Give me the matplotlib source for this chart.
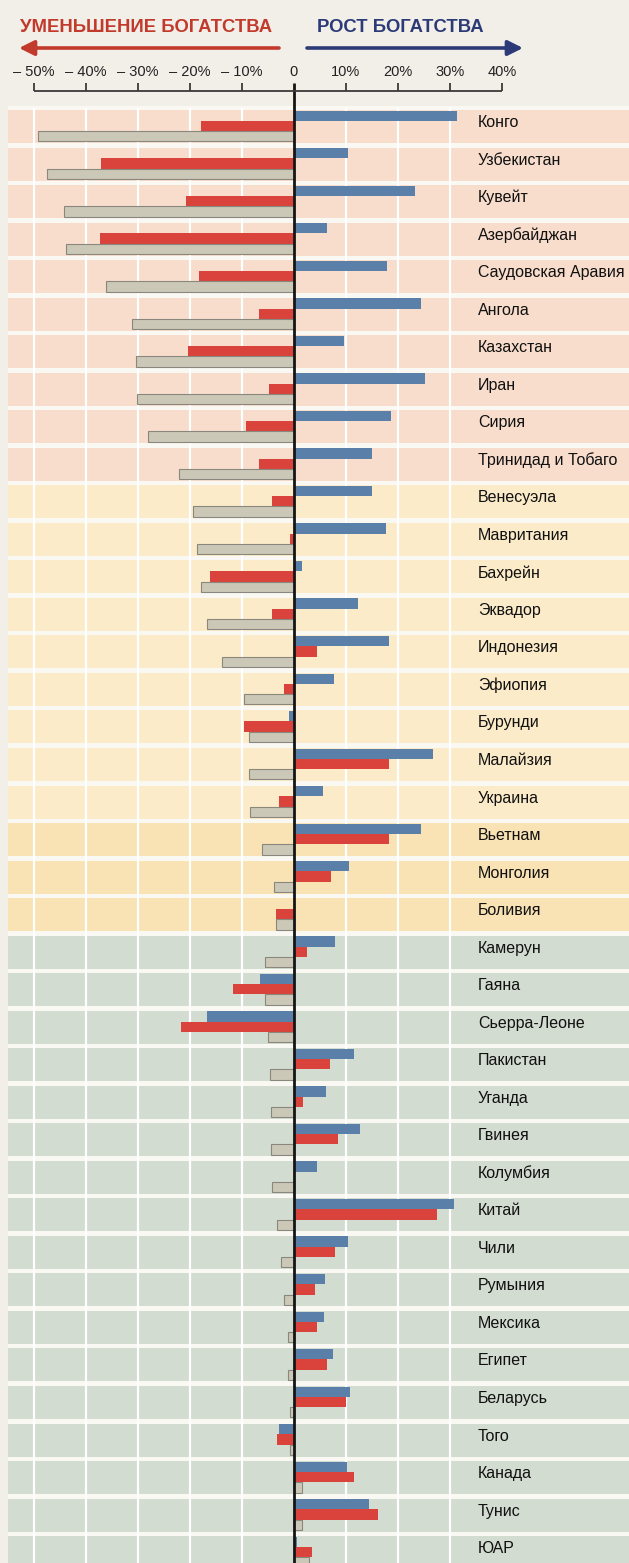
import matplotlib
matplotlib.use("Agg")
import matplotlib.pyplot as plt

# ---------------- data ----------------
countries = [
    "Конго", "Узбекистан", "Кувейт", "Азербайджан", "Саудовская Аравия",
    "Ангола", "Казахстан", "Иран", "Сирия", "Тринидад и Тобаго",
    "Венесуэла", "Мавритания", "Бахрейн", "Эквадор", "Индонезия",
    "Эфиопия", "Бурунди", "Малайзия", "Украина", "Вьетнам",
    "Монголия", "Боливия", "Камерун", "Гаяна", "Сьерра-Леоне",
    "Пакистан", "Уганда", "Гвинея", "Колумбия", "Китай",
    "Чили", "Румыния", "Мексика", "Египет", "Беларусь",
    "Того", "Канада", "Тунис", "ЮАР",
]
series_blue = [
    31.3, 10.4, 23.3, 6.4, 17.8, 24.4, 9.7, 25.1, 18.6, 15.0,
    15.0, 17.7, 1.6, 12.3, 18.2, 7.6, -1.0, 26.8, 5.5, 24.5,
    10.6, 0.0, 7.9, -6.5, -16.8, 11.6, 6.1, 12.6, 4.4, 30.7,
    10.3, 6.0, 5.7, 7.5, 10.7, -2.8, 10.2, 14.5, 0.5,
]
series_red = [
    -17.9, -37.2, -20.7, -37.4, -18.2, -6.8, -20.3, -4.9, -9.2, -6.8,
    -4.3, -0.7, -16.2, -4.2, 4.5, -1.9, -9.6, 18.3, -2.8, 18.2,
    7.2, -3.4, 2.5, -11.8, -21.7, 7.0, 1.7, 8.5, 0.0, 27.5,
    7.9, 4.1, 4.5, 6.4, 10.0, -3.3, 11.6, 16.2, 3.5,
]
series_grey = [
    -49.3, -47.5, -44.2, -43.9, -36.1, -31.2, -30.4, -30.2, -28.0, -22.1,
    -19.5, -18.6, -17.9, -16.7, -13.8, -9.7, -8.7, -8.6, -8.5, -6.2,
    -3.8, -3.5, -5.5, -5.5, -5.0, -4.7, -4.5, -4.5, -4.2, -3.3,
    -2.5, -2.0, -1.2, -1.2, -0.7, -0.7, 1.5, 1.6, 2.8,
]
groups = (["pink"] * 10 + ["yellow"] * 9 + ["yellow2"] * 3 + ["green"] * 17)
tick_values = [-50, -40, -30, -20, -10, 0, 10, 20, 30, 40]
tick_labels = ["\u2013 50%", "\u2013 40%", "\u2013 30%", "\u2013 20%", "\u2013 10%",
               "0", "10%", "20%", "30%", "40%"]
title_left = "УМЕНЬШЕНИЕ БОГАТСТВА"
title_right = "РОСТ БОГАТСТВА"

# ---------------- style ----------------
W, H = 629, 1563
X0, PX = 294.0, 5.2          # zero position (px) and px per 1 %
def v(px):
    return (px - X0) / PX

band_colors = {"pink": "#F8DDCC", "yellow": "#FCEBC8", "yellow2": "#F9E2B3",
               "green": "#D3DCD1"}
C_BLUE, C_RED, C_GREY = "#5A7FA8", "#D9433B", "#CBC8B7"
FONT = ["Liberation Sans", "DejaVu Sans"]

fig = plt.figure(figsize=(W / 100, H / 100), dpi=100)
fig.patch.set_facecolor("#F2EFE8")
ax = fig.add_axes([0, 0, 1, 1])
ax.set_xlim(v(0), v(W))
ax.set_ylim(H, 0)
ax.axis("off")

TOP0, PITCH, BAND_H = 110.0, 37.53, 33.0
n = len(countries)
tops = [TOP0 + PITCH * i for i in range(n)]

# light gaps between bands
ax.barh([(TOP0 - 4 + H) / 2], [v(W) - v(8)], left=v(8), height=H - TOP0 + 4,
        color="#FAF8F3", zorder=0)
# bands
ax.barh([t + BAND_H / 2 for t in tops], [v(W + 5) - v(8)] * n, left=v(8),
        height=BAND_H, color=[band_colors[g] for g in groups], zorder=1,
        linewidth=0)
# white grid lines
ax.vlines([-50, -40, -30, -20, -10, 10, 20, 30], TOP0 - 2, H, color="white",
          lw=1.6, zorder=2)

BH = 10.3
ax.barh([t + 5.7 for t in tops], series_blue, height=BH, color=C_BLUE,
        zorder=3, linewidth=0)
ax.barh([t + 16.0 for t in tops], series_red, height=BH, color=C_RED,
        zorder=3, linewidth=0)
ax.barh([t + 26.3 for t in tops], series_grey, height=BH, color=C_GREY,
        edgecolor="#8A887E", linewidth=0.8, zorder=3)

# zero line
ax.vlines(0, 83, H, color="#151515", lw=2.0, zorder=5)

# top axis
AXY = 91
ax.hlines(AXY, -50, 40, color="#3a3a3a", lw=1.3, zorder=5)
ax.vlines([t for t in tick_values if t != 0], AXY - 8, AXY, color="#3a3a3a",
          lw=1.3, zorder=5)
for tv, tl in zip(tick_values, tick_labels):
    ax.text(tv, 72, tl, ha="center", va="center", fontsize=10.5,
            color="#222222", family=FONT)

# country labels
for t, name in zip(tops, countries):
    ax.text(v(478), t + 12.5, name, ha="left", va="center", fontsize=11.5,
            color="#111111", family=FONT, zorder=6)

# header
ax.text(v(146), 27, title_left, ha="center", va="center", fontsize=13.3,
        fontweight="bold", color="#C13A2C", family=FONT)
ax.text(v(400), 27, title_right, ha="center", va="center", fontsize=13.3,
        fontweight="bold", color="#2C3A78", family=FONT)
ax.annotate("", xy=(v(19), 48), xytext=(v(279), 48),
            arrowprops=dict(arrowstyle="-|>,head_length=0.9,head_width=0.45",
                            color="#C13A2C", lw=2.6, shrinkA=0, shrinkB=0))
ax.annotate("", xy=(v(523), 48), xytext=(v(307), 48),
            arrowprops=dict(arrowstyle="-|>,head_length=0.9,head_width=0.45",
                            color="#2C3A78", lw=2.6, shrinkA=0, shrinkB=0))

fig.savefig("out.png", dpi=100, facecolor=fig.get_facecolor())
